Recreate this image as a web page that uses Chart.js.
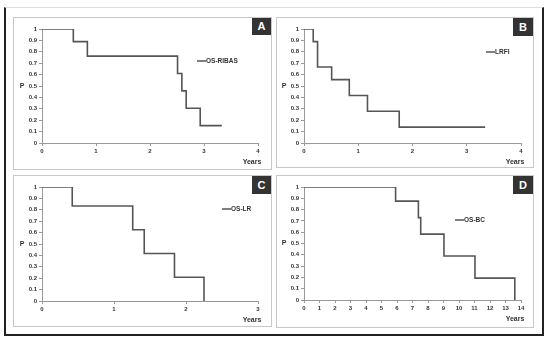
<!DOCTYPE html>
<html><head><meta charset="utf-8">
<script src="https://cdn.jsdelivr.net/npm/chart.js@4/dist/chart.umd.min.js"></script>
<style>
html,body{margin:0;padding:0;background:#fff;}
#wrap{position:relative;width:550px;height:344px;overflow:hidden;background:#fff;}
.frame{position:absolute;left:4px;top:7px;width:536px;height:326px;border-left:2px solid #222;border-right:2px solid #222;border-bottom:2px solid #222;border-top:1px solid #ddd;}
.box{position:absolute;border:1px solid #c8c8c8;box-sizing:border-box;background:#fff;}
.tag{position:absolute;background:#333;color:#fff;font:bold 11px "Liberation Sans",Arial,sans-serif;text-align:center;}
canvas{position:absolute;}
</style></head><body>
<div id="wrap"><div class="frame"></div></div>
<script>
// ---- data ----
const aTimes = [0, 0.58, 0.84, 2.51, 2.59, 2.67, 2.93, 3.33];
const aSurv  = [1, 0.889, 0.762, 0.61, 0.457, 0.305, 0.152, 0.152];
const bTimes = [0, 0.17, 0.25, 0.51, 0.835, 1.17, 1.755, 3.34];
const bSurv  = [1, 0.889, 0.667, 0.556, 0.417, 0.278, 0.139, 0.139];
const cTimes = [0, 0.42, 1.26, 1.42, 1.84, 2.25];
const cSurv  = [1, 0.833, 0.625, 0.417, 0.208, 0];
const dTimes = [0, 5.91, 7.38, 7.53, 9.03, 11.03, 13.6];
const dSurv  = [1, 0.875, 0.729, 0.583, 0.389, 0.194, 0];
const seriesNames = ["OS-RIBAS", "LRFI", "OS-LR", "OS-BC"];
const panelLetters = ["A", "B", "C", "D"];
const xMaxes = [4, 4, 3, 14];
const yTickStep = 0.1;
const xLabel = "Years";
const yLabel = "P";

// ---- layout ----
const panels = [
  {times:aTimes, surv:aSurv, box:{x:13,y:17,w:259,h:153}, area:{l:42,r:258,t:29,b:143}, leg:{x:197,y:61}, tag:{x:252,y:18,w:19,h:17}},
  {times:bTimes, surv:bSurv, box:{x:276,y:17,w:258,h:151}, area:{l:304,r:521,t:29,b:143}, leg:{x:486,y:52}, tag:{x:513,y:18,w:20,h:18}},
  {times:cTimes, surv:cSurv, box:{x:13,y:175,w:259,h:152}, area:{l:42,r:258,t:187,b:301}, leg:{x:222,y:209}, tag:{x:252,y:176,w:19,h:18}},
  {times:dTimes, surv:dSurv, box:{x:276,y:175,w:258,h:153}, area:{l:304,r:521,t:187,b:300}, leg:{x:455,y:220}, tag:{x:513,y:176,w:20,h:18}}
];
const FONT = '"Liberation Sans", Arial, sans-serif';
const lineColor = '#555';
const wrap = document.getElementById('wrap');

panels.forEach((p, i) => {
  const box = document.createElement('div');
  box.className = 'box';
  Object.assign(box.style, {left:p.box.x+'px', top:p.box.y+'px', width:p.box.w+'px', height:p.box.h+'px'});
  wrap.appendChild(box);

  const cv = document.createElement('canvas');
  cv.width = p.box.w; cv.height = p.box.h;
  Object.assign(cv.style, {left:p.box.x+'px', top:p.box.y+'px', width:p.box.w+'px', height:p.box.h+'px'});
  wrap.appendChild(cv);

  const tag = document.createElement('div');
  tag.className = 'tag';
  tag.textContent = panelLetters[i];
  Object.assign(tag.style, {left:p.tag.x+'px', top:p.tag.y+'px', width:p.tag.w+'px', height:p.tag.h+'px', lineHeight:p.tag.h+'px'});
  wrap.appendChild(tag);

  const ox = p.box.x, oy = p.box.y;
  const decor = {
    id: 'decor'+i,
    afterDraw(chart) {
      const ctx = chart.ctx, ca = chart.chartArea;
      ctx.save();
      ctx.fillStyle = '#333';
      ctx.font = 'bold 7px ' + FONT;
      ctx.textAlign = 'center'; ctx.textBaseline = 'middle';
      ctx.fillText(yLabel, ca.left - 20, (ca.top + ca.bottom) / 2);
      ctx.fillText(xLabel, ca.right - 6, ca.bottom + 19);
      // legend
      const lx = p.leg.x - ox, ly = p.leg.y - oy;
      ctx.strokeStyle = lineColor; ctx.lineWidth = 1.5;
      ctx.beginPath(); ctx.moveTo(lx, ly); ctx.lineTo(lx + 9, ly); ctx.stroke();
      ctx.textAlign = 'left';
      ctx.font = 'bold 6.5px ' + FONT;
      ctx.fillText(seriesNames[i], lx + 9, ly);
      ctx.restore();
    }
  };

  const W = p.box.w, H = p.box.h;
  new Chart(cv, {
    type: 'line',
    data: {
      datasets: [{
        label: seriesNames[i],
        data: p.times.map((t, k) => ({x: t, y: p.surv[k]})),
        borderColor: lineColor, borderWidth: 1.6,
        pointRadius: 0, stepped: 'before', fill: false, tension: 0
      }]
    },
    options: {
      responsive: false, animation: false, devicePixelRatio: 1,
      layout: {padding: {left: 0, top: p.area.t - oy, right: (ox + W) - p.area.r, bottom: 0}},
      plugins: {legend: {display: false}, tooltip: {enabled: false}},
      scales: {
        x: {
          type: 'linear', min: 0, max: xMaxes[i],
          ticks: {stepSize: 1, color: '#333', font: {family: FONT, size: 6, weight: 'bold'}, padding: 2, maxRotation: 0, autoSkip: false},
          grid: {drawOnChartArea: false, drawTicks: true, tickLength: 3, color: '#999'},
          border: {color: '#999', width: 1},
          afterFit: s => { s.height = (oy + H) - p.area.b; }
        },
        y: {
          type: 'linear', min: 0, max: 1,
          ticks: {stepSize: yTickStep, color: '#333', font: {family: FONT, size: 6, weight: 'bold'}, padding: 2,
                  callback: v => String(Number(v.toFixed(1)))},
          grid: {drawOnChartArea: false, drawTicks: true, tickLength: 3, color: '#999'},
          border: {color: '#999', width: 1},
          afterFit: s => { s.width = p.area.l - ox; }
        }
      }
    },
    plugins: [decor]
  });
});
</script>
</body></html>
